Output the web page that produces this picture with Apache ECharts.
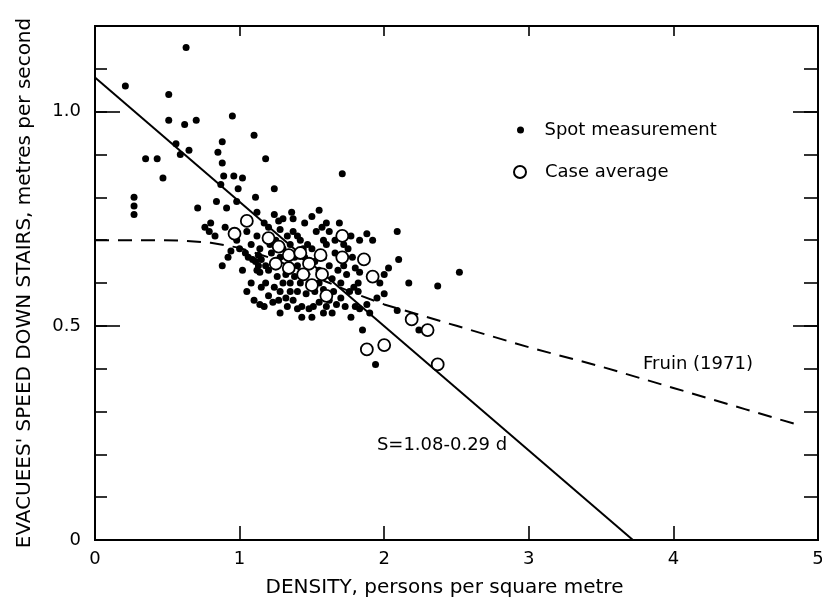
<!DOCTYPE html>
<html><head><meta charset="utf-8">
<script src="https://cdn.jsdelivr.net/npm/echarts/dist/echarts.min.js"></script>
<style>html,body{margin:0;padding:0;background:#fff}#c{width:822px;height:601px}</style>
</head><body><div id="c"></div>
<script>
// ---- data ----
const xTickValues = [0, 1, 2, 3, 4, 5];
const yLabelValues = [0, 0.5, 1.0];
const yLabelTexts = ['0', '0.5', '1.0'];

const spotPoints = [
  [0.63,1.15],[0.21,1.06],[0.51,1.04],[0.51,0.98],[0.62,0.97],[0.70,0.98],[0.95,0.99],
  [1.10,0.945],[1.18,0.89],[0.56,0.925],[0.59,0.90],[0.65,0.91],[0.88,0.93],[0.85,0.905],
  [0.88,0.88],[0.35,0.89],[0.43,0.89],[0.47,0.845],[0.89,0.85],[0.96,0.85],[1.02,0.845],
  [0.87,0.83],[0.99,0.82],[0.27,0.80],[0.27,0.78],[0.27,0.76],[0.71,0.775],[0.84,0.79],
  [0.91,0.775],[0.98,0.79],[1.11,0.80],[1.24,0.82],[1.71,0.855],
  [1.12,0.765],[0.76,0.73],[0.79,0.72],[0.83,0.71],[0.80,0.74],[0.90,0.73],[1.24,0.76],
  [1.27,0.745],[1.30,0.75],[1.36,0.765],[1.37,0.75],[1.55,0.77],[1.60,0.74],[1.69,0.74],
  [1.37,0.72],[1.40,0.71],[1.42,0.70],[1.53,0.72],[1.57,0.73],[1.77,0.71],[1.83,0.70],
  [1.88,0.715],[1.92,0.70],[2.09,0.72],[2.10,0.655],[2.52,0.625],[1.86,0.66],[2.00,0.62],
  [2.03,0.635],[2.17,0.60],[2.37,0.593],[2.09,0.536],[2.24,0.49],[1.94,0.41],[1.77,0.52],
  [1.80,0.545],[1.83,0.54],[1.88,0.55],[1.90,0.53],[1.82,0.58],[1.79,0.59],[1.82,0.60],
  [1.80,0.635],[1.83,0.625],
  [0.92,0.66],[1.06,0.66],[1.13,0.665],[1.15,0.655],[0.88,0.64],[1.12,0.63],[1.14,0.625],
  [1.20,0.63],[1.08,0.60],[1.10,0.56],[1.14,0.55],[1.17,0.545],[1.27,0.56],[1.32,0.565],
  [1.37,0.56],[1.28,0.53],[1.40,0.58],[1.43,0.545],[1.48,0.54],[1.51,0.545],[1.43,0.52],
  [1.50,0.52],
  [1.25,0.70],[1.30,0.68],[1.22,0.67],[1.28,0.66],[1.35,0.69],[1.38,0.66],[1.40,0.64],
  [1.45,0.66],[1.47,0.69],[1.50,0.68],[1.52,0.65],[1.55,0.63],[1.58,0.66],[1.60,0.69],
  [1.62,0.64],[1.64,0.61],[1.66,0.67],[1.68,0.63],[1.70,0.60],[1.72,0.64],[1.74,0.62],
  [1.76,0.58],[1.65,0.58],[1.62,0.56],[1.58,0.585],[1.55,0.60],[1.52,0.58],[1.48,0.60],
  [1.45,0.615],[1.42,0.60],[1.38,0.615],[1.35,0.60],[1.32,0.62],[1.30,0.60],[1.26,0.615],
  [1.24,0.59],[1.20,0.57],[1.23,0.555],[1.33,0.545],[1.40,0.54],[1.55,0.555],[1.60,0.545],
  [1.67,0.55],[1.70,0.565],[1.73,0.545],[1.58,0.53],[1.64,0.53],[1.46,0.575],[1.35,0.58],
  [1.28,0.58],[1.18,0.60],[1.15,0.59],[1.05,0.58],[1.02,0.63],[1.00,0.68],[1.08,0.69],
  [1.12,0.71],[1.17,0.74],[1.20,0.73],[1.05,0.72],[0.98,0.70],[1.45,0.74],[1.50,0.755],
  [1.62,0.72],[1.66,0.70],[1.75,0.68],[1.78,0.66],[1.72,0.69],[1.58,0.70],[1.44,0.68],
  [1.33,0.71],[1.28,0.725],[1.21,0.69],[1.14,0.68],[1.95,0.565],[2.00,0.575],[1.85,0.49],
  [1.97,0.60],[0.94,0.675],[1.04,0.67],[1.09,0.655],[1.11,0.65],[1.18,0.64],[1.13,0.64]
];

const casePoints = [
  [0.965,0.715],[1.05,0.745],[1.20,0.705],[1.27,0.685],[1.34,0.665],[1.42,0.67],[1.56,0.665],
  [1.71,0.71],[1.71,0.66],[1.34,0.635],[1.44,0.62],[1.57,0.62],[1.60,0.57],[1.50,0.595],
  [1.86,0.655],[1.92,0.615],[2.19,0.515],[2.30,0.49],[1.88,0.445],[2.00,0.455],[2.37,0.41],
  [1.25,0.645],[1.48,0.645]
];

const fruinCurve = [
  [0,0.70],[0.4,0.70],[0.6,0.699],[0.8,0.694],[1.0,0.682],[1.2,0.66],[1.4,0.633],
  [1.6,0.603],[1.8,0.575],[2.0,0.55],[2.5,0.50],[3.0,0.45],[3.5,0.405],[4.0,0.355],
  [4.5,0.305],[4.87,0.268]
];

const regressionLine = [[0,1.08],[3.72,0]];

const regressionText = 'S=1.08-0.29 d';
const regressionTextAt = [2.4, 0.22];
const fruinText = 'Fruin (1971)';
const fruinTextAt = [4.17, 0.41];

// ---- chart ----
const FONT = 'DejaVu Sans';
const black = '#000';
const chart = echarts.init(document.getElementById('c'), null, {renderer: 'canvas'});

function yLabelFmt(v) {
  for (let i = 0; i < yLabelValues.length; i++) {
    if (Math.abs(v - yLabelValues[i]) < 1e-6) return yLabelTexts[i];
  }
  return '';
}

const axisLine = {show: true, onZero: false, lineStyle: {color: black, width: 2}};
function yAx(pos, interval, tickLen, opts) {
  return Object.assign({
    type: 'value', position: pos, min: 0, max: 1.2, interval: interval,
    axisLine: axisLine,
    axisTick: {show: true, inside: true, length: tickLen, lineStyle: {color: black, width: 1.6}},
    axisLabel: {show: false},
    splitLine: {show: false}
  }, opts || {});
}

const option = {
  animation: false,
  backgroundColor: '#fff',
  textStyle: {fontFamily: FONT, color: black},
  grid: {left: 95, right: 4, top: 26, bottom: 61, containLabel: false, outerBoundsMode: 'none'},
  legend: [
    {data: ['Spot measurement'], orient: 'vertical', left: 512, top: 116,
     itemWidth: 34, itemHeight: 7, selectedMode: false,
     textStyle: {fontFamily: FONT, fontSize: 18, color: black, padding: [0, 0, 0, 2]}},
    {data: ['Case average'], orient: 'vertical', left: 508, top: 158,
     itemWidth: 34, itemHeight: 12, selectedMode: false,
     textStyle: {fontFamily: FONT, fontSize: 18, color: black, padding: [0, 0, 0, 3]}}
  ],
  xAxis: [
    {type: 'value', position: 'bottom', min: 0, max: 5, interval: 1,
     axisLine: axisLine,
     axisTick: {show: true, inside: true, length: 14, lineStyle: {color: black, width: 1.6}},
     axisLabel: {show: true, margin: 10, fontSize: 18, fontFamily: FONT, color: black,
                 formatter: v => (xTickValues.indexOf(v) >= 0 ? String(v) : '')},
     splitLine: {show: false},
     name: 'DENSITY, persons per square metre', nameLocation: 'middle', nameGap: 38,
     nameTextStyle: {fontFamily: FONT, fontSize: 20, color: black, padding: [0, 24, 0, 0]}},
    {type: 'value', position: 'top', min: 0, max: 5, interval: 1,
     axisLine: axisLine,
     axisTick: {show: true, inside: true, length: 10, lineStyle: {color: black, width: 1.6}},
     axisLabel: {show: false}, splitLine: {show: false}}
  ],
  yAxis: [
    yAx('left', 0.1, 12, {
      name: "EVACUEES' SPEED DOWN STAIRS, metres per second",
      nameLocation: 'middle', nameGap: 60, nameRotate: 90,
      nameTextStyle: {fontFamily: FONT, fontSize: 20, color: black}
    }),
    yAx('left', 0.5, 25, {
      axisLabel: {show: true, margin: 14, fontSize: 18, fontFamily: FONT, color: black,
                  formatter: yLabelFmt}
    }),
    yAx('right', 0.1, 14),
    yAx('right', 0.5, 25)
  ],
  series: [
    {name: 'Regression', type: 'line', data: regressionLine, showSymbol: false, symbol: 'none',
     silent: true, z: 2, lineStyle: {color: black, width: 2},
     markPoint: {symbol: 'circle', symbolSize: 0, silent: true,
       data: [{coord: regressionTextAt, value: 0,
               label: {show: true, position: 'inside', formatter: regressionText,
                       fontFamily: FONT, fontSize: 18, color: black}}]}},
    {name: 'Fruin', type: 'line', data: fruinCurve, smooth: false,
     showSymbol: false, symbol: 'none', silent: true, z: 2,
     lineStyle: {color: black, width: 2, type: [14, 9]},
     markPoint: {symbol: 'circle', symbolSize: 0, silent: true,
       data: [{coord: fruinTextAt, value: 0,
               label: {show: true, position: 'inside', formatter: fruinText,
                       fontFamily: FONT, fontSize: 18, color: black}}]}},
    {name: 'Spot measurement', type: 'scatter', data: spotPoints, symbol: 'circle', symbolSize: 7,
     z: 3, itemStyle: {color: black, opacity: 1}},
    {name: 'Case average', type: 'scatter', data: casePoints, symbol: 'circle', symbolSize: 12,
     z: 4, itemStyle: {color: '#fff', borderColor: black, borderWidth: 1.8, opacity: 1}}
  ]
};
chart.setOption(option);
</script>
</body></html>
